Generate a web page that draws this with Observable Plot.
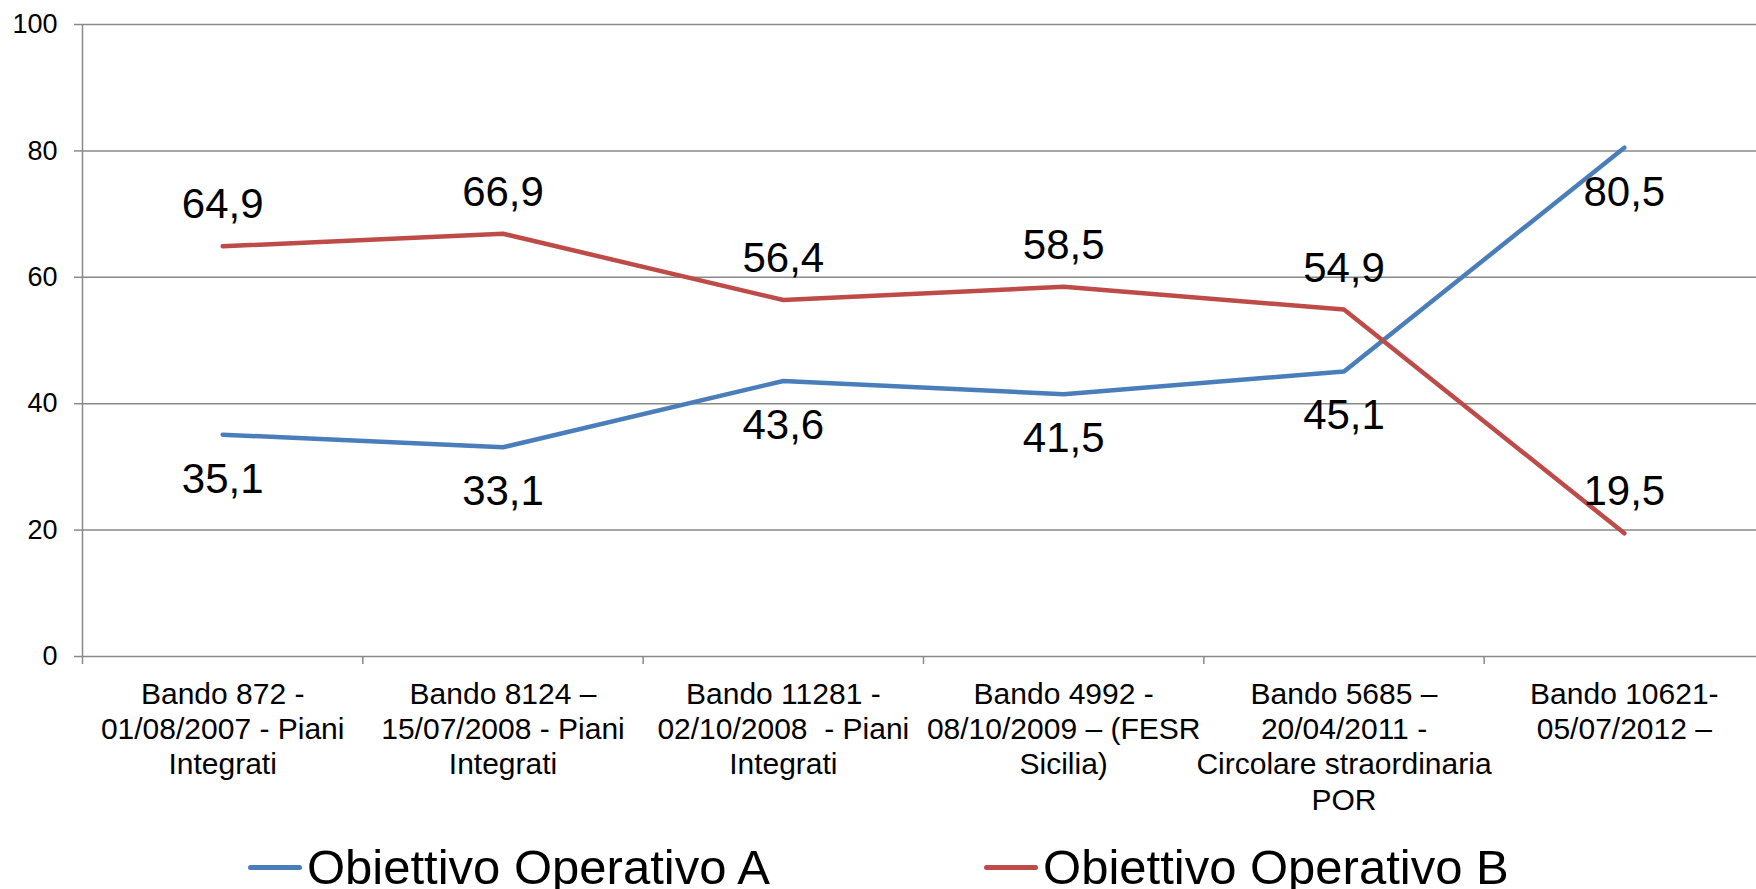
<!DOCTYPE html>
<html>
<head>
<meta charset="utf-8">
<script src="https://cdn.jsdelivr.net/npm/d3@7"></script>
<script src="https://cdn.jsdelivr.net/npm/@observablehq/plot@0.6"></script>
<style>
  html, body { margin: 0; padding: 0; background: #fff; overflow: hidden; }
  #chart { position: relative; width: 1756px; height: 889px; }
  .legend { position: absolute; left: 248px; top: 843px; display: flex; align-items: center; gap: 214px;
            font-family: "Liberation Sans", Arial, sans-serif; font-size: 49px; line-height: 49px; color: #000; white-space: nowrap; }
  .item { display: flex; align-items: center; }
  .swatch { width: 54px; height: 5px; border-radius: 3px; margin-right: 5px; }
</style>
</head>
<body>
<div id="chart"></div>
<script>
// ---- data ----
const categories = [
  "Bando 872 -\n01/08/2007 - Piani\nIntegrati",
  "Bando 8124 –\n15/07/2008 - Piani\nIntegrati",
  "Bando 11281 -\n02/10/2008  - Piani\nIntegrati",
  "Bando 4992 -\n08/10/2009 – (FESR\nSicilia)",
  "Bando 5685 –\n20/04/2011 -\nCircolare straordinaria\nPOR",
  "Bando 10621-\n05/07/2012 –"
];
const valuesA = [35.1, 33.1, 43.6, 41.5, 45.1, 80.5];
const valuesB = [64.9, 66.9, 56.4, 58.5, 54.9, 19.5];
const seriesNames = ["Obiettivo Operativo A", "Obiettivo Operativo B"];
const seriesColors = ["#4A7EBB", "#BE4B48"];
const yTicks = [0, 20, 40, 60, 80, 100];

// ---- table ----
const rows = [];
categories.forEach((c, i) => {
  rows.push({cat: c, i, series: seriesNames[0], value: valuesA[i]});
  rows.push({cat: c, i, series: seriesNames[1], value: valuesB[i]});
});
const fmt = v => v.toFixed(1).replace(".", ",");
const gridColor = "#898989";
const font = '"Liberation Sans", Arial, sans-serif';
const boundaries = categories.map((_, i) => i).concat(categories.length);
const centers = categories.map((_, i) => i + 0.5);

const plot = Plot.plot({
  width: 1756,
  height: 820,
  marginTop: 24,
  marginBottom: 164,
  marginLeft: 82,
  marginRight: 0,
  style: {fontFamily: font, background: "#fff", color: "#000", overflow: "visible"},
  x: {domain: [0, categories.length], range: [82, 1764]},
  y: {domain: [0, 100]},
  color: {domain: seriesNames, range: seriesColors},
  marks: [
    Plot.ruleY(yTicks, {stroke: gridColor, strokeWidth: 1.5}),
    Plot.ruleX([0], {stroke: gridColor, strokeWidth: 1.5}),
    Plot.axisY({ticks: yTicks, tickSize: 8, tickPadding: 17, fontSize: 27, stroke: gridColor, strokeWidth: 1.5, fill: "#000", label: null, tickFormat: d => String(d)}),
    Plot.axisX({ticks: boundaries, tickSize: 8, tickFormat: () => "", stroke: gridColor, strokeWidth: 1.5, label: null}),
    Plot.axisX({ticks: centers, tickSize: 0, tickPadding: 22, fontSize: 30, lineHeight: 1.18, fill: "#000", label: null,
                tickFormat: d => categories[Math.floor(d)]}),
    Plot.line(rows, {x: d => d.i + 0.5, y: "value", z: "series", stroke: "series", strokeWidth: 4.5, strokeLinecap: "round", strokeLinejoin: "round"}),
    Plot.text(rows.filter(d => d.series === seriesNames[0]), {x: d => d.i + 0.5, y: "value", text: d => fmt(d.value), lineAnchor: "bottom", dy: 58, fontSize: 42, fill: "#000"}),
    Plot.text(rows.filter(d => d.series === seriesNames[1]), {x: d => d.i + 0.5, y: "value", text: d => fmt(d.value), lineAnchor: "bottom", dy: -28, fontSize: 42, fill: "#000"})
  ]
});

const chart = document.getElementById("chart");
chart.appendChild(plot);

const legend = document.createElement("div");
legend.className = "legend";
seriesNames.forEach((name, k) => {
  const item = document.createElement("div");
  item.className = "item";
  const sw = document.createElement("span");
  sw.className = "swatch";
  sw.style.background = seriesColors[k];
  const label = document.createElement("span");
  label.textContent = name;
  item.appendChild(sw);
  item.appendChild(label);
  legend.appendChild(item);
});
chart.appendChild(legend);
</script>
</body>
</html>
